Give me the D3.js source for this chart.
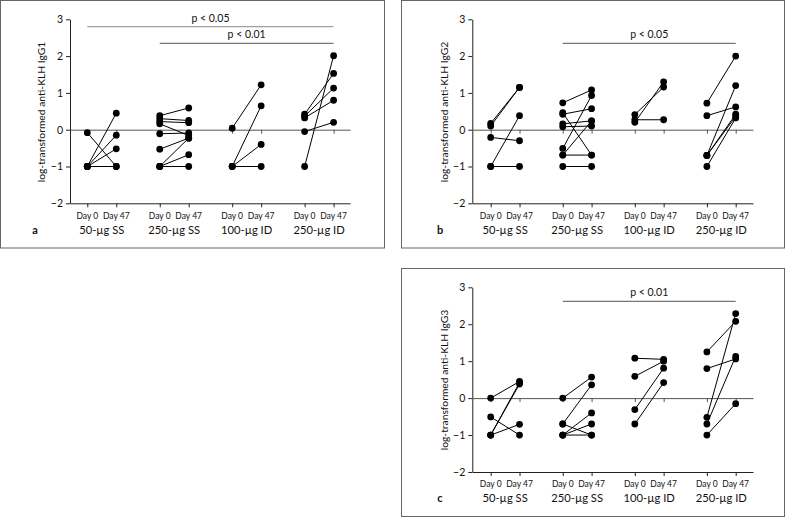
<!DOCTYPE html>
<html><head><meta charset="utf-8">
<script src="https://cdn.jsdelivr.net/npm/d3@7"></script>
<style>
html,body{margin:0;padding:0;background:#fff;}
svg{display:block;font-family:Lato,"Open Sans",sans-serif;}
</style></head>
<body>
<svg id="chart" width="787" height="518"></svg>
<script>
// ---------- data ----------
const groups = ["50-µg SS", "250-µg SS", "100-µg ID", "250-µg ID"];
const days = ["Day 0", "Day 47"];
const yTicks = [3, 2, 1, 0, -1, -2];

// IgG1 (panel a): paired values per group, Day 0 and Day 47
const igg1Day0 = [
  [-0.08, -1, -1, -1, -1],
  [0.38, 0.30, 0.22, 0.16, -0.11, -0.53, -1, -1, -1],
  [0.04, -1, -1, -1],
  [0.42, 0.37, 0.32, -0.05, -1]
];
const igg1Day47 = [
  [-1, 0.45, -0.15, -0.52, -1],
  [0.59, 0.25, 0.19, -0.16, -0.09, -0.23, -0.23, -0.68, -1],
  [1.22, 0.65, -0.40, -1],
  [1.53, 1.13, 0.80, 0.20, 2.01]
];

// IgG2 (panel b)
const igg2Day0 = [
  [0.17, 0.10, -0.21, -1, -1],
  [0.73, 0.46, 0.42, 0.16, 0.08, -0.51, -0.69, -0.69, -1],
  [0.41, 0.20, 0.27],
  [0.72, 0.38, -0.70, -0.70, -0.70, -1]
];
const igg2Day47 = [
  [1.15, 1.15, -0.30, 0.38, -1],
  [1.08, -0.69, 0.57, 0.24, 0.10, 0.93, 0.24, -0.69, -1],
  [1.16, 1.30, 0.27],
  [2.00, 0.62, 1.20, 0.42, 0.36, 0.32]
];

// IgG3 (panel c)
const igg3Day0 = [
  [0, -0.51, -1, -1, -1],
  [0, -0.70, -0.70, -1, -1, -1],
  [1.08, 0.59, -0.31, -0.70],
  [1.25, 0.80, -0.52, -0.70, -1]
];
const igg3Day47 = [
  [0.45, -1, 0.42, 0.38, -0.71],
  [0.57, 0.36, -1, -0.40, -0.70, -1],
  [1.05, 1.00, 0.81, 0.42],
  [2.08, 1.06, 2.29, 1.13, -0.15]
];

// significance bars: [group, day] from -> to, with label
const sigA = [
  {from: [0, 0], to: [3, 1], label: "p < 0.05"},
  {from: [1, 0], to: [3, 1], label: "p < 0.01"}
];
const sigB = [{from: [1, 0], to: [3, 1], label: "p < 0.05"}];
const sigC = [{from: [1, 0], to: [3, 1], label: "p < 0.01"}];

// ---------- layout ----------
const panels = [
  {letter: "a", ylab: "log-transformed anti-KLH IgG1", d0: igg1Day0, d47: igg1Day47, sig: sigA,
   box: [0.5, 0.5, 384, 247.5], axisX: 70, axisEnd: 350, x0: 87.3, x1: 333.6,
   yTop: 19.3, yBot: 203.3, dayY: 218.5, grpY: 233.5, ylabX: 41.7, ylabY: 112,
   letterX: 35, sigY: [26.7, 43.3], sigColor: ["#8a8a8a", "#555"]},
  {letter: "b", ylab: "log-transformed anti-KLH IgG2", d0: igg2Day0, d47: igg2Day47, sig: sigB,
   box: [401.5, 0.5, 383, 247.5], axisX: 472.3, axisEnd: 753, x0: 490.7, x1: 735.7,
   yTop: 19.3, yBot: 203.3, dayY: 218.5, grpY: 233.5, ylabX: 444.5, ylabY: 112,
   letterX: 440, sigY: [43.3], sigColor: ["#555"]},
  {letter: "c", ylab: "log-transformed anti-KLH IgG3", d0: igg3Day0, d47: igg3Day47, sig: sigC,
   box: [401.5, 268.5, 383, 248], axisX: 472.3, axisEnd: 753, x0: 490.7, x1: 735.7,
   yTop: 287.3, yBot: 472, dayY: 486.5, grpY: 501.5, ylabX: 444.5, ylabY: 380,
   letterX: 440, sigY: [301.3], sigColor: ["#555"]}
];

const svg = d3.select("#chart");
const fmt = d => d < 0 ? "\u2212" + Math.abs(d) : String(d);
const tickUnits = [];
groups.forEach((g, gi) => days.forEach((d, di) => tickUnits.push(gi * 2.5 + di)));

panels.forEach(p => {
  const g = svg.append("g");
  g.append("rect").attr("x", p.box[0]).attr("y", p.box[1]).attr("width", p.box[2]).attr("height", p.box[3])
    .attr("fill", "none").attr("stroke", "#666").attr("stroke-width", 1);

  const y = d3.scaleLinear().domain([-2, 3]).range([p.yBot, p.yTop]);
  const x = d3.scaleLinear().domain([0, 8.5]).range([p.x0, p.x1]);
  const xa = d3.scaleLinear().domain([x.invert(p.axisX), x.invert(p.axisEnd)]).range([p.axisX, p.axisEnd]);
  const pos = (gi, di) => x(gi * 2.5 + di);

  // y axis
  const ya = g.append("g").attr("transform", `translate(${p.axisX},0)`)
    .call(d3.axisLeft(y).tickValues(yTicks).tickSize(4).tickSizeOuter(0).tickPadding(3).tickFormat(fmt));
  ya.selectAll("text").attr("font-size", 10.5).attr("fill", "#111").attr("font-family", "Lato");
  ya.selectAll("line,path").attr("stroke", "#222");

  // bottom axis
  const xb = g.append("g").attr("transform", `translate(0,${y(-2)})`)
    .call(d3.axisBottom(xa).tickValues(tickUnits).tickSize(4).tickSizeOuter(0).tickFormat(""));
  xb.selectAll("line,path").attr("stroke", "#222");

  // zero line
  const xz = g.append("g").attr("transform", `translate(0,${y(0)})`)
    .call(d3.axisBottom(xa).tickValues(tickUnits).tickSize(4).tickSizeOuter(0).tickFormat(""));
  xz.selectAll("line,path").attr("stroke", "#555");

  // day labels
  groups.forEach((gr, gi) => {
    days.forEach((d, di) => {
      g.append("text").attr("x", pos(gi, di)).attr("y", p.dayY).attr("text-anchor", "middle")
        .attr("font-size", 8.5).attr("fill", "#111").text(d);
    });
    g.append("text").attr("x", (pos(gi, 0) + pos(gi, 1)) / 2).attr("y", p.grpY).attr("text-anchor", "middle")
      .attr("font-size", 11.2).attr("fill", "#111").text(gr);
  });

  // panel letter
  g.append("text").attr("x", p.letterX).attr("y", p.grpY).attr("text-anchor", "middle")
    .attr("font-size", 11).attr("font-weight", "bold").attr("fill", "#111").text(p.letter);

  // y label
  g.append("text").attr("transform", `translate(${p.ylabX},${p.ylabY}) rotate(-90)`)
    .attr("text-anchor", "middle").attr("dy", "0.35em").attr("font-size", 10.3).attr("fill", "#111").text(p.ylab);

  // significance bars
  p.sig.forEach((s, si) => {
    const xs = pos(s.from[0], s.from[1]), xe = pos(s.to[0], s.to[1]), yy = p.sigY[si];
    g.append("line").attr("x1", xs).attr("x2", xe).attr("y1", yy).attr("y2", yy)
      .attr("stroke", p.sigColor[si]).attr("stroke-width", 1);
    g.append("text").attr("x", (xs + xe) / 2 + (s.from[0] === 0 ? 0 : 0)).attr("y", yy - 5)
      .attr("text-anchor", "middle").attr("font-size", 10.5).attr("fill", "#111").text(s.label);
  });

  // paired lines and points
  groups.forEach((gr, gi) => {
    const a = p.d0[gi], b = p.d47[gi];
    const pairs = a.map((v, i) => [v, b[i]]);
    g.append("g").selectAll("line").data(pairs).join("line")
      .attr("x1", pos(gi, 0)).attr("x2", pos(gi, 1))
      .attr("y1", d => y(d[0])).attr("y2", d => y(d[1]))
      .attr("stroke", "#000").attr("stroke-width", 1);
    const pts = [];
    pairs.forEach(d => { pts.push([0, d[0]]); pts.push([1, d[1]]); });
    g.append("g").selectAll("circle").data(pts).join("circle")
      .attr("cx", d => pos(gi, d[0])).attr("cy", d => y(d[1])).attr("r", 3.4).attr("fill", "#000");
  });
});
</script>
</body></html>
